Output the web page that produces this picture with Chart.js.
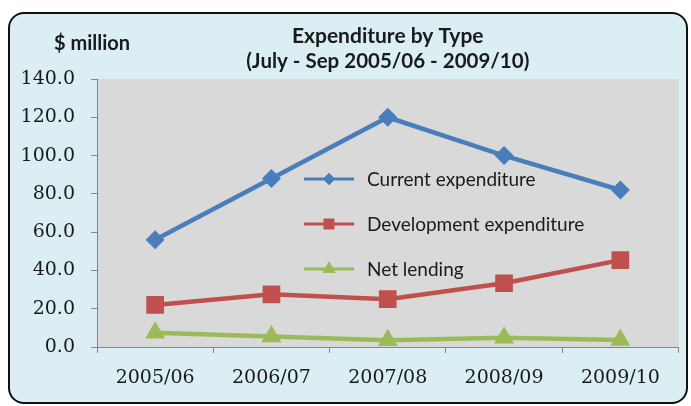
<!DOCTYPE html>
<html>
<head>
<meta charset="utf-8">
<script src="https://cdn.jsdelivr.net/npm/chart.js@4"></script>
<style>
  html, body { margin: 0; padding: 0; background: #ffffff; }
  #wrap { width: 691px; height: 406px; position: relative; }
</style>
</head>
<body>
<div id="wrap"><canvas id="chart" width="691" height="406"></canvas></div>
<script>
// Expenditure by Type, July - Sep 2005/06 - 2009/10 ($ million)

const years = ["2005/06", "2006/07", "2007/08", "2008/09", "2009/10"];
const seriesNames = ["Current expenditure", "Development expenditure", "Net lending"];
const currentExp = [56, 88, 120, 100, 82];
const developmentExp = [22, 27.5, 25, 33.3, 45.4];
const netLending = [7.5, 5.5, 3.5, 4.8, 3.7];
const yTicks = [0, 20, 40, 60, 80, 100, 120, 140];
const titleLines = ["Expenditure by Type", "(July - Sep 2005/06 - 2009/10)"];
const unitLabel = "$ million";

const COL = {
  blue: "#4a7ebb",
  red: "#c0504d",
  green: "#9bbb59",
  plot: "#d9d9d9",
  panel: "#daeef3",
  axis: "#868686",
  text: "#1a1a1a",
};

const markers = ["rectRot", "rect", "triangle"];
const markerColors = [COL.blue, COL.red, COL.green];

// ---------- frame, plot background, titles, legend ----------
const decor = {
  id: "decor",
  beforeDraw(chart) {
    const { ctx, chartArea: a } = chart;
    ctx.save();
    ctx.fillStyle = "#ffffff";
    ctx.fillRect(0, 0, chart.width, chart.height);
    // rounded panel
    ctx.beginPath();
    ctx.roundRect(9, 13, 678, 390, 15);
    ctx.fillStyle = COL.panel;
    ctx.fill();
    ctx.lineWidth = 2;
    ctx.strokeStyle = "#111111";
    ctx.stroke();
    // plot area fill
    ctx.fillStyle = COL.plot;
    ctx.fillRect(a.left, a.top, a.right - a.left, a.bottom - a.top);
    ctx.restore();
  },
  afterDraw(chart) {
    const { ctx, chartArea: a } = chart;
    ctx.save();
    ctx.fillStyle = COL.text;
    ctx.textAlign = "center";
    ctx.textBaseline = "alphabetic";
    ctx.font = "bold 21px Lato";
    ctx.fillText(titleLines[0], (a.left + a.right) / 2, 43);
    ctx.font = "bold 20.5px Lato";
    ctx.fillText(titleLines[1], (a.left + a.right) / 2, 68);
    ctx.font = "bold 20px Lato";
    ctx.fillText(unitLabel, 92, 50);

    // legend inside plot area
    const lx = a.left + 207, rowY = [179, 224, 269];
    ctx.font = "19px Lato";
    ctx.textAlign = "left";
    ctx.textBaseline = "middle";
    seriesNames.forEach((name, i) => {
      const y = rowY[i];
      ctx.strokeStyle = markerColors[i];
      ctx.lineWidth = 3;
      ctx.beginPath();
      ctx.moveTo(lx, y);
      ctx.lineTo(lx + 50, y);
      ctx.stroke();
      ctx.fillStyle = markerColors[i];
      Chart.helpers.drawPoint(ctx, { pointStyle: markers[i], radius: i === 0 ? 6 : 7.5, borderWidth: 0 }, lx + 25, y);
      ctx.fill();
      ctx.fillStyle = COL.text;
      ctx.fillText(name, lx + 63, y + 1);
    });
    ctx.restore();
  },
};

const ds = (label, data, i, r) => ({
  label,
  data,
  borderColor: markerColors[i],
  backgroundColor: markerColors[i],
  borderWidth: 4.5,
  pointStyle: markers[i],
  pointRadius: r,
  pointBorderWidth: 0,
  pointHoverRadius: r,
  tension: 0,
});

new Chart(document.getElementById("chart"), {
  type: "line",
  data: {
    labels: years,
    datasets: [
      ds(seriesNames[0], currentExp, 0, 9.5),
      ds(seriesNames[1], developmentExp, 1, 12.5),
      ds(seriesNames[2], netLending, 2, 11.5),
    ],
  },
  options: {
    responsive: false,
    animation: false,
    layout: { padding: { top: 79, right: 10, left: 0, bottom: 0 } },
    plugins: { legend: { display: false }, title: { display: false }, tooltip: { enabled: false } },
    scales: {
      x: {
        offset: true,
        grid: { offset: true, drawOnChartArea: false, tickLength: 6, color: COL.axis },
        border: { display: true, color: COL.axis, width: 1 },
        ticks: { font: { family: "DejaVu Serif", size: 19 }, color: COL.text, padding: 14, maxRotation: 0 },
        afterFit: (s) => { s.height = 59; },
      },
      y: {
        min: 0,
        max: 140,
        afterBuildTicks: (s) => { s.ticks = yTicks.map(v => ({ value: v })); },
        grid: { drawOnChartArea: false, tickLength: 6, color: COL.axis },
        border: { display: true, color: COL.axis, width: 1 },
        ticks: { font: { family: "DejaVu Serif", size: 19 }, color: COL.text, padding: 16, callback: (v) => Number(v).toFixed(1) },
        afterFit: (s) => { s.width = 97; },
      },
    },
  },
  plugins: [decor],
});
</script>
</body>
</html>
